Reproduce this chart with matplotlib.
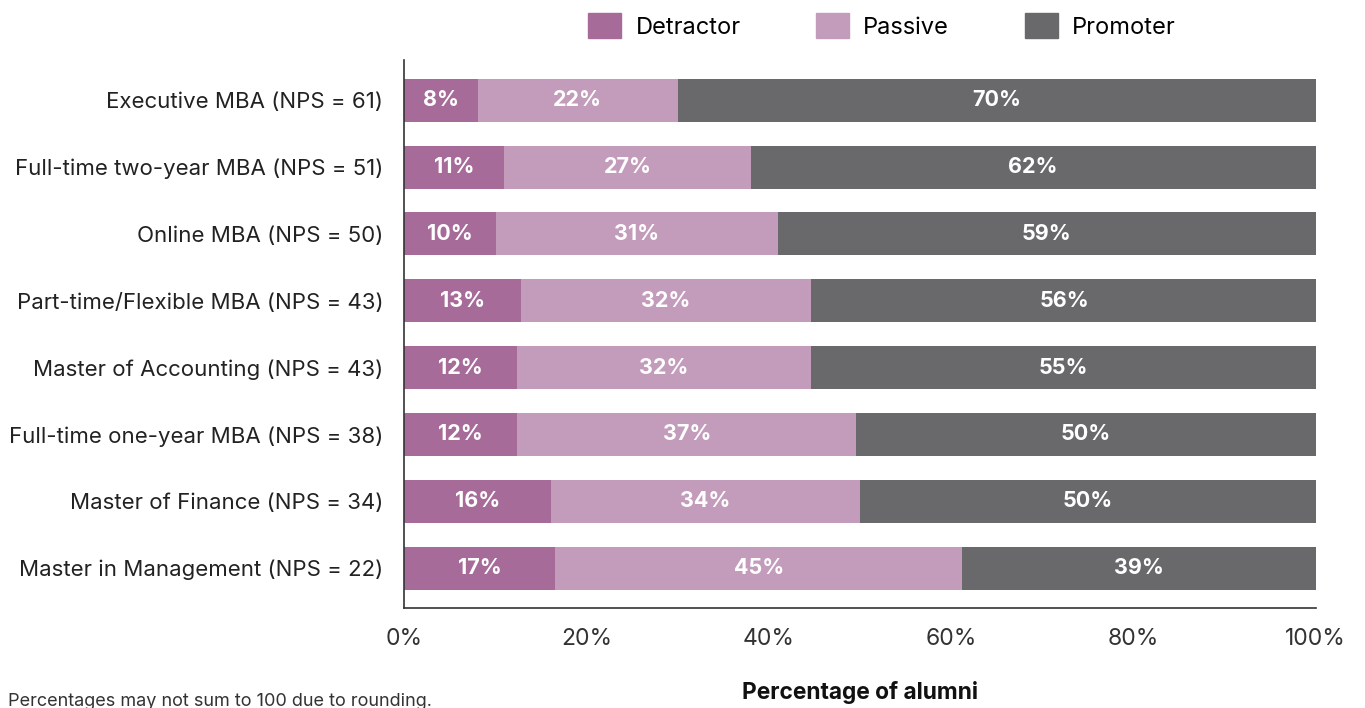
import matplotlib
matplotlib.use("Agg")
import matplotlib.pyplot as plt
from matplotlib.patches import Patch

plt.rcParams["font.family"] = ["Inter", "DejaVu Sans"]

# Data (percent of alumni, estimated to one decimal)
programs = [
    "Executive MBA (NPS = 61)",
    "Full-time two-year MBA (NPS = 51)",
    "Online MBA (NPS = 50)",
    "Part-time/Flexible MBA (NPS = 43)",
    "Master of Accounting (NPS = 43)",
    "Full-time one-year MBA (NPS = 38)",
    "Master of Finance (NPS = 34)",
    "Master in Management (NPS = 22)",
]
detractor = [8.1, 11.0, 10.1, 12.8, 12.4, 12.4, 16.1, 16.6]
passive = [21.9, 27.0, 30.9, 31.8, 32.2, 37.2, 33.9, 44.6]
promoter = [70.0, 62.0, 59.0, 55.6, 55.4, 50.4, 50.0, 38.8]

series_names = ["Detractor", "Passive", "Promoter"]
colors = ["#A76B9A", "#C39BBB", "#69686B"]
x_ticks = [0, 20, 40, 60, 80, 100]

fig = plt.figure(figsize=(13.65, 7.08), dpi=100)
ax = fig.add_axes([0.296, 0.141, 0.668, 0.774])

ypos = list(range(len(programs)))
left = [0.0] * len(programs)
for name, vals, col in zip(series_names, [detractor, passive, promoter], colors):
    bars = ax.barh(ypos, vals, left=left, height=0.645, color=col, label=name)
    for b, v in zip(bars, vals):
        ax.text(b.get_x() + b.get_width() / 2, b.get_y() + b.get_height() / 2,
                f"{v:.0f}%", ha="center", va="center", color="white",
                fontsize=15.5, fontweight="bold")
    left = [l + v for l, v in zip(left, vals)]

ax.set_xlim(0, 100)
ax.set_ylim(7.6, -0.6)
ax.set_yticks(ypos)
ax.set_yticklabels(programs, fontsize=16, color="#222222")
ax.set_xticks(x_ticks)
ax.set_xticklabels([f"{t}%" for t in x_ticks], fontsize=16.5, color="#333333")
ax.tick_params(axis="both", length=0)
ax.tick_params(axis="x", pad=14)
ax.tick_params(axis="y", pad=15)
for s in ["top", "right"]:
    ax.spines[s].set_visible(False)
for s in ["left", "bottom"]:
    ax.spines[s].set_color("#333333")
    ax.spines[s].set_linewidth(1.2)

fig.text(860 / 1365, 1 - 693 / 708, "Percentage of alumni", ha="center", va="center",
         fontsize=16.4, fontweight="bold", color="#111111")
fig.text(8 / 1365, 1 - 702 / 708, "Percentages may not sum to 100 due to rounding.",
         ha="left", va="center", fontsize=13, color="#333333")

handles = [Patch(color=c, label=n) for n, c in zip(series_names, colors)]
fig.legend(handles=handles, loc="upper center", bbox_to_anchor=(882 / 1365, 1.012), ncol=3,
           frameon=False, fontsize=17, handlelength=1.4, handleheight=1.3,
           columnspacing=3.2, handletextpad=0.6)

fig.savefig("out.png", dpi=100)
